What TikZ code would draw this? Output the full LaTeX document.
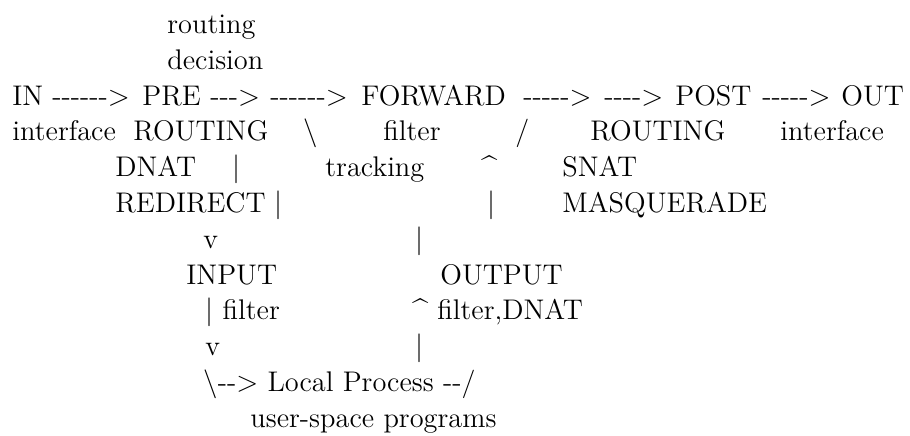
\documentclass[tikz,border=0pt]{standalone}

\newcommand{\hy}{\mbox{-}}
\newcommand{\garr}{$>$}
\newcommand{\vbar}{$|$}

\begin{document}
\begin{tikzpicture}[x=0.5pt,y=-0.5pt,
    lbl/.style={anchor=base west,inner sep=0pt,font=\fontsize{14.2}{17}\selectfont}]
    \useasboundingbox (0,0) rectangle (910,435);

    % routing decision
    \node[lbl] (rout) at (167,33) {routing};
    \node[lbl] (dec) at (167,69) {decision};

    % main chain
    \node[lbl] (in) at (12,105) {IN};
    \node[lbl] (a1) at (52,105) {\hy\hy\hy\hy\hy\hy\garr};
    \node[lbl] (pre) at (142,105) {PRE};
    \node[lbl] (a2) at (210,105) {\hy\hy\hy\garr};
    \node[lbl] (a3) at (270,105) {\hy\hy\hy\hy\hy\hy\garr};
    \node[lbl] (fwd) at (361,105) {FORWARD};
    \node[lbl] (a4) at (523,105) {\hy\hy\hy\hy\hy\garr};
    \node[lbl] (a5) at (604,105) {\hy\hy\hy\hy\garr};
    \node[lbl] (post) at (675,105) {POST};
    \node[lbl] (a6) at (762,105) {\hy\hy\hy\hy\hy\garr};
    \node[lbl] (out) at (841,105) {OUT};

    \node[lbl] (ifin) at (12,140) {interface};
    \node[lbl] (prer) at (133,140) {ROUTING};
    \node[lbl] (bsl) at (303,140) {$\backslash$};
    \node[lbl] (ffil) at (383,140) {filter};
    \node[lbl] (sl) at (515,140) {/};
    \node[lbl] (postr) at (590,140) {ROUTING};
    \node[lbl] (ifout) at (780,140) {interface};

    % targets
    \node[lbl] (dnat) at (115,176) {DNAT};
    \node[lbl] (b1) at (232,176) {\vbar};
    \node[lbl] (trk) at (325,176) {tracking};
    \node[lbl] (up1) at (481,176) {\^{}};
    \node[lbl] (snat) at (562,176) {SNAT};

    \node[lbl] (redir) at (115,212) {REDIRECT};
    \node[lbl] (b2) at (274,212) {\vbar};
    \node[lbl] (b3) at (487,212) {\vbar};
    \node[lbl] (masq) at (562,212) {MASQUERADE};

    % local branch
    \node[lbl] (v1) at (203,248) {v};
    \node[lbl] (b4) at (415,248) {\vbar};

    \node[lbl] (inp) at (186,284) {INPUT};
    \node[lbl] (outp) at (440,284) {OUTPUT};

    \node[lbl] (infil) at (205,319) {\vbar{} filter};
    \node[lbl] (outfil) at (412,319) {\^{} filter,DNAT};

    \node[lbl] (v2) at (205,355) {v};
    \node[lbl] (b5) at (415,355) {\vbar};

    \node[lbl] (local) at (203,391) {$\backslash$\hy\hy\garr{} Local Process \hy\hy/};
    \node[lbl] (user) at (250,427) {user-space programs};
\end{tikzpicture}
\end{document}
